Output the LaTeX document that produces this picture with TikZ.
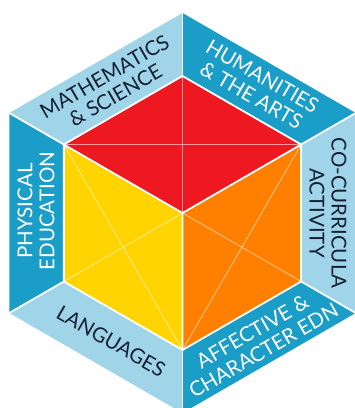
\documentclass[tikz,border=0pt]{standalone}
\usepackage{fontspec}
\newfontfamily\lbl{Lato}
\definecolor{lightb}{RGB}{160,212,232}
\definecolor{darkb}{RGB}{26,158,200}
\definecolor{redc}{RGB}{238,24,32}
\definecolor{yellowc}{RGB}{255,212,0}
\definecolor{orangec}{RGB}{255,128,0}
\definecolor{darktext}{RGB}{22,32,52}
\begin{document}
\begin{tikzpicture}[x=1pt,y=1pt,
  sep/.style={draw=white,line width=1.8pt,line join=round},
  diag/.style={draw=white,draw opacity=0.55,line width=0.8pt},
  lbltxt/.style={font=\lbl\fontsize{20.5}{22}\selectfont,align=center,inner sep=0pt},
  ondark/.style={lbltxt,text=white},
  onlight/.style={lbltxt,text=darktext}]
\useasboundingbox (0,0) rectangle (355,408);
\fill[white] (0,0) rectangle (355,408);
\coordinate (C) at (182.5,195);
\foreach \a/\n in {90/1,150/2,210/3,270/4,330/5,30/6} {
  \path (C) ++(\a:200) coordinate (O\n);
  \path (C) ++(\a:137) coordinate (I\n);
}
% bands
\fill[lightb] (O1) -- (O2) -- (I2) -- (I1) -- cycle;
\fill[darkb]  (O1) -- (O6) -- (I6) -- (I1) -- cycle;
\fill[lightb] (O6) -- (O5) -- (I5) -- (I6) -- cycle;
\fill[darkb]  (O5) -- (O4) -- (I4) -- (I5) -- cycle;
\fill[lightb] (O4) -- (O3) -- (I3) -- (I4) -- cycle;
\fill[darkb]  (O3) -- (O2) -- (I2) -- (I3) -- cycle;
% cube faces
\fill[redc]    (I1) -- (I2) -- (C) -- (I6) -- cycle;
\fill[yellowc] (I2) -- (I3) -- (I4) -- (C) -- cycle;
\fill[orangec] (C) -- (I4) -- (I5) -- (I6) -- cycle;
% face diagonals
\draw[diag] (I2) -- (I6) (I1) -- (C);
\draw[diag] (I2) -- (I4) (I3) -- (C);
\draw[diag] (I6) -- (I4) (I5) -- (C);
% separators
\draw[sep] (I1) -- (I2) -- (I3) -- (I4) -- (I5) -- (I6) -- cycle;
\draw[sep] (C) -- (I2) (C) -- (I6) (C) -- (I4);
\foreach \n in {1,...,6} { \draw[sep] (O\n) -- (I\n); }
% labels
\node[onlight,rotate=30]  (tmath) at (110,322) {MATHEMATICS\\\& SCIENCE};
\node[ondark,rotate=-30]  (thum)  at (257,322) {HUMANITIES\\\& THE ARTS};
\node[onlight,rotate=-90] (tco)   at (328,195) {CO-CURRICULA\\ACTIVITY};
\node[ondark,rotate=30]   (taff)  at (258,67)  {AFFECTIVE \&\\CHARACTER EDN};
\node[onlight,rotate=-30] (tlang) at (111,67)  {LANGUAGES};
\node[ondark,rotate=90]   (tpe)   at (36,197)  {PHYSICAL\\EDUCATION};
\end{tikzpicture}
\end{document}
